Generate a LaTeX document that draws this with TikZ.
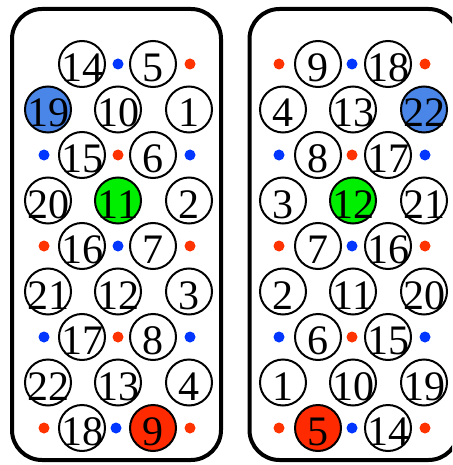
\documentclass[tikz,border=0pt]{standalone}
\usepackage{fontspec}
\setmainfont{Liberation Serif}
\definecolor{cblue}{HTML}{4A86E8}
\definecolor{cgreen}{HTML}{00EE00}
\definecolor{cred}{HTML}{FF2A00}
\definecolor{dblue}{HTML}{0036FF}
\definecolor{dred}{HTML}{FF3300}
\newcommand\myball[5]{\node[ball,fill=#5] (#1) at (#2,#3) {};
  \node[num] (t#1) at ([yshift=-17.5pt]#1.center) {#4};}
\newcommand\mydot[4]{\node[dotst,fill=#4] (#1) at (#2,#3) {};}
\begin{document}
\begin{tikzpicture}[x=1pt,y=-1pt,
  ball/.style={circle, draw, line width=2pt, minimum size=46pt, inner sep=0pt},
  num/.style={anchor=base, inner sep=0pt, font=\fontsize{42}{42}\selectfont},
  dotst/.style={circle, minimum size=11pt, inner sep=0pt},
  panel/.style={draw, line width=4pt, rounded corners=30pt}]
\useasboundingbox (0,0) rectangle (452,465);
\clip (0,0) rectangle (452,465);
\draw[panel] (12,9) rectangle (221,460);
\draw[panel] (249.5,9) rectangle (458.5,460);
% left panel
\myball{L14}{82}{64}{14}{white}
\mydot{Ld1b}{118}{64}{dblue}
\myball{L5}{153}{64}{5}{white}
\mydot{Ld1c}{190}{64}{dred}
\myball{L19}{48}{109.5}{19}{cblue}
\myball{L10}{118}{109.5}{10}{white}
\myball{L1}{189}{109.5}{1}{white}
\mydot{Ld3a}{44}{155}{dblue}
\myball{L15}{82}{155}{15}{white}
\mydot{Ld3b}{118}{155}{dred}
\myball{L6}{153}{155}{6}{white}
\mydot{Ld3c}{190}{155}{dblue}
\myball{L20}{48}{200.5}{20}{white}
\myball{L11}{118}{200.5}{11}{cgreen}
\myball{L2}{189}{200.5}{2}{white}
\mydot{Ld5a}{44}{246}{dred}
\myball{L16}{82}{246}{16}{white}
\mydot{Ld5b}{118}{246}{dblue}
\myball{L7}{153}{246}{7}{white}
\mydot{Ld5c}{190}{246}{dred}
\myball{L21}{48}{291.5}{21}{white}
\myball{L12}{118}{291.5}{12}{white}
\myball{L3}{189}{291.5}{3}{white}
\mydot{Ld7a}{44}{337}{dblue}
\myball{L17}{82}{337}{17}{white}
\mydot{Ld7b}{118}{337}{dred}
\myball{L8}{153}{337}{8}{white}
\mydot{Ld7c}{190}{337}{dblue}
\myball{L22}{48}{382.5}{22}{white}
\myball{L13}{118}{382.5}{13}{white}
\myball{L4}{189}{382.5}{4}{white}
\mydot{Ld9a}{44}{428}{dred}
\myball{L18}{82}{428}{18}{white}
\mydot{Ld9b}{116}{428}{dblue}
\myball{L9}{153}{428}{9}{cred}
\mydot{Ld9c}{190}{428}{dred}
% right panel
\mydot{Rd1a}{279}{64}{dred}
\myball{R9}{318}{64}{9}{white}
\mydot{Rd1b}{352}{64}{dblue}
\myball{R18}{388}{64}{18}{white}
\mydot{Rd1c}{425}{64}{dred}
\myball{R4}{283}{109.5}{4}{white}
\myball{R13}{353}{109.5}{13}{white}
\myball{R22}{424}{109.5}{22}{cblue}
\mydot{Rd3a}{279}{155}{dblue}
\myball{R8}{318}{155}{8}{white}
\mydot{Rd3b}{352}{155}{dred}
\myball{R17}{388}{155}{17}{white}
\mydot{Rd3c}{425}{155}{dblue}
\myball{R3}{283}{200.5}{3}{white}
\myball{R12}{353}{200.5}{12}{cgreen}
\myball{R21}{424}{200.5}{21}{white}
\mydot{Rd5a}{279}{246}{dred}
\myball{R7}{318}{246}{7}{white}
\mydot{Rd5b}{352}{246}{dblue}
\myball{R16}{388}{246}{16}{white}
\mydot{Rd5c}{425}{246}{dred}
\myball{R2}{283}{291.5}{2}{white}
\myball{R11}{353}{291.5}{11}{white}
\myball{R20}{424}{291.5}{20}{white}
\mydot{Rd7a}{279}{337}{dblue}
\myball{R6}{318}{337}{6}{white}
\mydot{Rd7b}{352}{337}{dred}
\myball{R15}{388}{337}{15}{white}
\mydot{Rd7c}{425}{337}{dblue}
\myball{R1}{283}{382.5}{1}{white}
\myball{R10}{353}{382.5}{10}{white}
\myball{R19}{424}{382.5}{19}{white}
\mydot{Rd9a}{279}{428}{dred}
\myball{R5}{318}{428}{5}{cred}
\mydot{Rd9b}{352}{428}{dblue}
\myball{R14}{388}{428}{14}{white}
\mydot{Rd9c}{425}{428}{dred}
\end{tikzpicture}
\end{document}
